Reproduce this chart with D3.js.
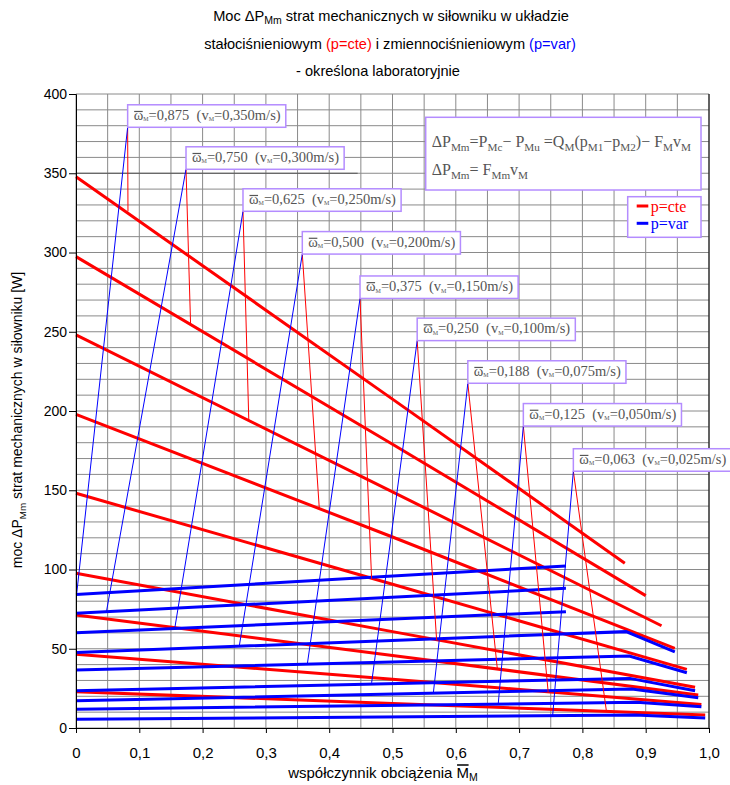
<!DOCTYPE html>
<html>
<head>
<meta charset="utf-8">
<script src="https://cdn.jsdelivr.net/npm/d3@7"></script>
<style>
body { margin:0; background:#fff; }
svg { display:block; }
.sans { font-family: "Liberation Sans", Arial, sans-serif; }
.serif { font-family: "Liberation Serif", "Times New Roman", serif; }
</style>
</head>
<body>
<div id="chart"></div>
<script>
var velocities = ["0,350","0,300","0,250","0,200","0,150","0,100","0,075","0,050","0,025"];
var omegas = ["0,875","0,750","0,625","0,500","0,375","0,250","0,188","0,125","0,063"];

// p=cte lines, one per velocity, points [load factor, dP]
var redLines = [
    [[0,347.8],[0.5,207.5],[0.867,104]],
    [[0,297.4],[0.5,179],[0.900,83.5]],
    [[0,248],[0.5,149],[0.925,64.5]],
    [[0,197.9],[0.5,120.5],[0.946,50.3]],
    [[0,148.1],[0.5,90.7],[0.965,37]],
    [[0,97.6],[0.5,60.8],[0.978,25.7]],
    [[0,71.3],[0.5,45.8],[0.983,20.8]],
    [[0,46.5],[0.5,30.8],[0.988,14.9]],
    [[0,22.9],[0.5,15.5],[0.994,8.2]]
];
// p=var lines
var blueLines = [
    [[0,84.3],[0.774,102.2]],
    [[0,72.4],[0.774,88.1]],
    [[0,60.1],[0.774,73.4]],
    [[0,47.7],[0.869,60.8],[0.946,48.1]],
    [[0,36.6],[0.874,45.4],[0.965,34.9]],
    [[0,23.5],[0.875,31.3],[0.978,23.5]],
    [[0,17.2],[0.878,24.6],[0.983,19.1]],
    [[0,11.8],[0.886,16.2],[0.988,13.4]],
    [[0,5.5],[0.883,8.2],[0.994,6.3]]
];
// peak of each thin pair (label corner)
var peakX = [0.0816, 0.1738, 0.2638, 0.3575, 0.4487, 0.539, 0.619, 0.7067, 0.7857];
var peakY = [379, 352.5, 326, 299, 271, 244.4, 217.5, 190.5, 162];
var blueFootX = [0.001, 0.048, 0.156, 0.258, 0.3655, 0.467, 0.5645, 0.667, 0.753];
var blueFootY = [84.4, 73.2, 62.8, 51.8, 40.5, 28.5, 22, 15.1, 7.8];
var redFootX = [0.0821, 0.181, 0.273, 0.3844, 0.467, 0.5697, 0.6656, 0.746, 0.838];
var redFootY = [326, 255, 194, 138.3, 94, 55.5, 37.4, 22.4, 10.4];

var xTickValues = [0,0.1,0.2,0.3,0.4,0.5,0.6,0.7,0.8,0.9,1.0];
var yTickValues = [0,50,100,150,200,250,300,350,400];

var widthPage = 730;
var heightPage = 785;
var padding = {top:94, bottom:57, left:76, right:21};

var svg = d3.select("#chart").append("svg").attr("width", widthPage).attr("height", heightPage);

var x = d3.scaleLinear().domain([0,1]).range([padding.left, widthPage - padding.right]);
var y = d3.scaleLinear().domain([0,400]).range([heightPage - padding.bottom, padding.top]);

function addRich(sel, parts, size){
    var shift = 0;
    parts.forEach(function(p){
        var low = p.sub ? (p.low || size*0.28) : 0;
        var ts = sel.append("tspan").text(p.t).attr("dy", low - shift);
        shift = low;
        if (p.sub) ts.attr("font-size", p.size || size*0.7);
        if (p.color) ts.attr("fill", p.color);
    });
}

// bar over one glyph of a text
function overBar(t, idx, lift, w){
    var e = t.node().getExtentOfChar(idx);
    var base = +t.attr("y");
    d3.select(t.node().parentNode).append("line")
        .attr("x1", e.x + 0.5).attr("x2", e.x + e.width - 0.5)
        .attr("y1", base - lift).attr("y2", base - lift)
        .attr("stroke", t.attr("fill")).attr("stroke-width", w);
}

// grid
var grid = svg.append("g").attr("stroke", "#8a8a8a").attr("stroke-width", 1);
grid.selectAll(".gx").data(d3.range(0, 21)).enter().append("line")
    .attr("x1", d => x(d*0.05)).attr("x2", d => x(d*0.05))
    .attr("y1", y(0)).attr("y2", y(400));
grid.selectAll(".gy").data(d3.range(0, 41)).enter().append("line")
    .attr("x1", x(0)).attr("x2", x(1))
    .attr("y1", d => y(d*10)).attr("y2", d => y(d*10));
svg.append("line").attr("x1", x(0)).attr("x2", x(0.445)).attr("y1", y(350)).attr("y2", y(350))
    .attr("stroke", "#555").attr("stroke-width", 1);
svg.append("line").attr("x1", x(1)).attr("x2", x(1)).attr("y1", y(0)).attr("y2", y(400))
    .attr("stroke", "#000").attr("stroke-width", 1);

var line = d3.line().x(d => x(d[0])).y(d => y(d[1]));

svg.append("g").selectAll("path").data(redLines).enter().append("path")
    .attr("d", line).attr("fill", "none").attr("stroke", "#ff0000").attr("stroke-width", 3);
svg.append("g").selectAll("path").data(blueLines).enter().append("path")
    .attr("d", line).attr("fill", "none").attr("stroke", "#0000ff").attr("stroke-width", 3);

var thinBlue = peakX.map((px, i) => [[blueFootX[i], blueFootY[i]], [px, peakY[i]]]);
var thinRed = peakX.map((px, i) => [[px, peakY[i]], [redFootX[i], redFootY[i]]]);
svg.append("g").selectAll("path").data(thinRed).enter().append("path")
    .attr("d", line).attr("fill", "none").attr("stroke", "#ff0000").attr("stroke-width", 1);
svg.append("g").selectAll("path").data(thinBlue).enter().append("path")
    .attr("d", line).attr("fill", "none").attr("stroke", "#0000ff").attr("stroke-width", 1);

// axes
var xAxis = d3.axisBottom(x).tickValues(xTickValues).tickSize(5).tickPadding(14)
    .tickFormat(d => d === 0 ? "0" : d.toFixed(1).replace(".", ","));
var gx = svg.append("g").attr("transform", `translate(0,${y(0)})`).call(xAxis);
gx.selectAll("text").attr("class", "sans").attr("font-size", 15).attr("fill", "#000");
gx.select(".domain").attr("stroke", "#000");

var yAxis = d3.axisLeft(y).tickValues(yTickValues).tickSize(7).tickPadding(2);
var gy = svg.append("g").attr("transform", `translate(${x(0)},0)`).call(yAxis);
gy.selectAll("text").attr("class", "sans").attr("font-size", 14).attr("fill", "#000");
gy.select(".domain").attr("stroke", "#000");

// label boxes
var boxColor = "#b48cff";
peakX.forEach(function(px, i){
    var g = svg.append("g");
    var rect = g.append("rect").attr("fill", "#fff").attr("stroke", boxColor).attr("stroke-width", 1.5);
    var t = g.append("text").attr("class", "serif").attr("font-size", 14.5).attr("fill", "#555")
        .style("white-space", "pre")
        .attr("x", x(px) + 6).attr("y", y(peakY[i]) - 7.3);
    addRich(t, [
        {t:"ω"},
        {t:"M", sub:true, size:6, low:1.5},
        {t:"=" + omegas[i] + "  (v"},
        {t:"M", sub:true, size:6, low:1.5},
        {t:"=" + velocities[i] + "m/s)"}
    ], 14.5);
    var bb = t.node().getBBox();
    rect.attr("x", x(px)).attr("y", y(peakY[i]) - 22.5)
        .attr("width", bb.width + 11).attr("height", 22.5);
    overBar(t, 0, 8.5, 1.2);
});

// formula box
var fg = svg.append("g");
fg.append("rect").attr("x", 425.7).attr("y", 117.3).attr("width", 275.3).attr("height", 72.7)
    .attr("fill", "#fff").attr("stroke", boxColor).attr("stroke-width", 1.5);
var f1 = fg.append("text").attr("class", "serif").attr("font-size", 16).attr("fill", "#555")
    .style("white-space", "pre").attr("x", 431.7).attr("y", 146.7);
addRich(f1, [
    {t:"ΔP"},{t:"Mm", sub:true},{t:"=P"},{t:"Mc", sub:true},{t:"− P"},{t:"Mu", sub:true},
    {t:" =Q"},{t:"M", sub:true},{t:"(p"},{t:"M1", sub:true},{t:"−p"},{t:"M2", sub:true},
    {t:")− F"},{t:"M", sub:true},{t:"v"},{t:"M", sub:true}
], 16);
var f2 = fg.append("text").attr("class", "serif").attr("font-size", 16).attr("fill", "#555")
    .style("white-space", "pre").attr("x", 431.7).attr("y", 175);
addRich(f2, [
    {t:"ΔP"},{t:"Mm", sub:true},{t:"= F"},{t:"Mm", sub:true},{t:"v"},{t:"M", sub:true}
], 16);

// legend
var lg = svg.append("g");
lg.append("rect").attr("x", 627.7).attr("y", 196.7).attr("width", 73.3).attr("height", 40.6)
    .attr("fill", "#fff").attr("stroke", boxColor).attr("stroke-width", 1.5);
var legendItems = [{name:"p=cte", color:"#ff0000"}, {name:"p=var", color:"#0000ff"}];
legendItems.forEach(function(d, i){
    lg.append("line").attr("x1", 636.7).attr("x2", 648.3).attr("y1", 206 + i*17.3).attr("y2", 206 + i*17.3)
        .attr("stroke", d.color).attr("stroke-width", 3);
    lg.append("text").attr("class", "serif").attr("font-size", 16).attr("fill", d.color)
        .attr("x", 650.7).attr("y", 212.3 + i*16.5).text(d.name);
});

// titles
var title = svg.append("g").attr("class", "sans").attr("font-size", 14.6).attr("fill", "#000").attr("text-anchor", "middle");
addRich(title.append("text").attr("x", 391).attr("y", 21),
    [{t:"Moc ΔP"},{t:"Mm", sub:true, size:10.5, low:3},{t:" strat mechanicznych w siłowniku w układzie"}], 14.6);
addRich(title.append("text").attr("x", 390).attr("y", 48.5),
    [{t:"stałociśnieniowym "},{t:"(p=cte)", color:"#ff0000"},{t:" i zmiennociśnieniowym "},{t:"(p=var)", color:"#0000ff"}], 14.6);
title.append("text").attr("x", 378).attr("y", 76).text("- określona laboratoryjnie");

var ylab = svg.append("text").attr("class", "sans").attr("font-size", 14).attr("text-anchor", "middle")
    .attr("transform", "translate(22,420) rotate(-90)");
addRich(ylab, [{t:"moc ΔP"},{t:"Mm", sub:true},{t:" strat mechanicznych w siłowniku [W]"}], 14);

var xlab = svg.append("text").attr("class", "sans").attr("font-size", 15).attr("text-anchor", "middle")
    .attr("fill", "#000").attr("x", 383).attr("y", 778);
addRich(xlab, [{t:"współczynnik obciążenia M"},{t:"M", sub:true, low:2.5}], 15);
overBar(xlab, 24, 13, 1.5);
</script>
</body>
</html>
